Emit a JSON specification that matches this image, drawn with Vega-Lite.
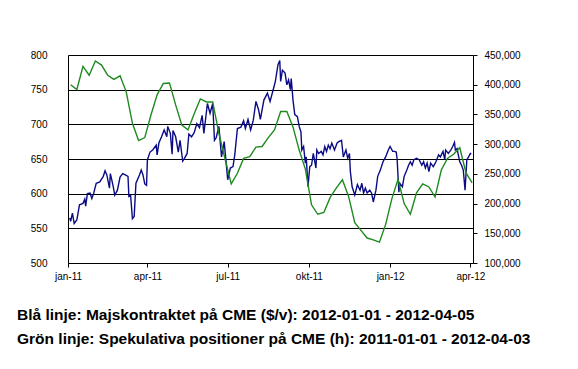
{
  "$schema": "https://vega.github.io/schema/vega-lite/v6.json",
  "width": 405,
  "height": 208,
  "autosize": {"type": "none"},
  "padding": {"left": 68, "top": 55, "right": 105, "bottom": 106},
  "background": "white",
  "config": {"view": {"stroke": null}},
  "title": {
    "text": ["Blå linje: Majskontraktet på CME ($/v): 2012-01-01 - 2012-04-05", "Grön linje: Spekulativa positioner på CME (h): 2011-01-01 - 2012-04-03"],
    "orient": "bottom",
    "anchor": "start",
    "frame": "group",
    "dx": -51,
    "offset": 27,
    "font": "Liberation Sans",
    "fontSize": 15.5,
    "fontWeight": "bold",
    "lineHeight": 24,
    "color": "#000000"
  },
  "datasets": {
    "blue": [
      {"date": "2011-01-03", "price": 565}, {"date": "2011-01-04", "price": 560}, {"date": "2011-01-06", "price": 572}, {"date": "2011-01-08", "price": 557},
      {"date": "2011-01-11", "price": 562}, {"date": "2011-01-14", "price": 584}, {"date": "2011-01-18", "price": 586}, {"date": "2011-01-20", "price": 592},
      {"date": "2011-01-21", "price": 582}, {"date": "2011-01-23", "price": 600}, {"date": "2011-01-26", "price": 601}, {"date": "2011-01-28", "price": 593},
      {"date": "2011-01-30", "price": 600}, {"date": "2011-02-02", "price": 615}, {"date": "2011-02-06", "price": 617}, {"date": "2011-02-10", "price": 625},
      {"date": "2011-02-12", "price": 633}, {"date": "2011-02-14", "price": 627}, {"date": "2011-02-17", "price": 608}, {"date": "2011-02-18", "price": 629},
      {"date": "2011-02-21", "price": 612}, {"date": "2011-02-23", "price": 598}, {"date": "2011-02-26", "price": 605}, {"date": "2011-03-01", "price": 624},
      {"date": "2011-03-04", "price": 629}, {"date": "2011-03-07", "price": 627}, {"date": "2011-03-10", "price": 625}, {"date": "2011-03-11", "price": 596},
      {"date": "2011-03-13", "price": 597}, {"date": "2011-03-15", "price": 564}, {"date": "2011-03-17", "price": 567}, {"date": "2011-03-19", "price": 615},
      {"date": "2011-03-23", "price": 627}, {"date": "2011-03-25", "price": 634}, {"date": "2011-03-27", "price": 627}, {"date": "2011-03-29", "price": 614},
      {"date": "2011-03-31", "price": 612}, {"date": "2011-04-01", "price": 649}, {"date": "2011-04-04", "price": 660}, {"date": "2011-04-07", "price": 663},
      {"date": "2011-04-11", "price": 670}, {"date": "2011-04-12", "price": 656}, {"date": "2011-04-14", "price": 673}, {"date": "2011-04-17", "price": 682},
      {"date": "2011-04-20", "price": 692}, {"date": "2011-04-23", "price": 682}, {"date": "2011-04-24", "price": 697}, {"date": "2011-04-27", "price": 687},
      {"date": "2011-04-29", "price": 657}, {"date": "2011-04-30", "price": 691}, {"date": "2011-05-03", "price": 682}, {"date": "2011-05-06", "price": 660},
      {"date": "2011-05-08", "price": 677}, {"date": "2011-05-11", "price": 647}, {"date": "2011-05-13", "price": 651}, {"date": "2011-05-16", "price": 658},
      {"date": "2011-05-18", "price": 686}, {"date": "2011-05-21", "price": 682}, {"date": "2011-05-24", "price": 688}, {"date": "2011-05-27", "price": 701},
      {"date": "2011-05-30", "price": 695}, {"date": "2011-06-02", "price": 713}, {"date": "2011-06-04", "price": 687}, {"date": "2011-06-08", "price": 730},
      {"date": "2011-06-11", "price": 716}, {"date": "2011-06-14", "price": 730}, {"date": "2011-06-16", "price": 677}, {"date": "2011-06-18", "price": 681},
      {"date": "2011-06-21", "price": 697}, {"date": "2011-06-24", "price": 653}, {"date": "2011-06-27", "price": 675}, {"date": "2011-06-30", "price": 634},
      {"date": "2011-07-01", "price": 620}, {"date": "2011-07-04", "price": 637}, {"date": "2011-07-07", "price": 639}, {"date": "2011-07-09", "price": 656},
      {"date": "2011-07-12", "price": 694}, {"date": "2011-07-16", "price": 696}, {"date": "2011-07-19", "price": 705}, {"date": "2011-07-21", "price": 694},
      {"date": "2011-07-24", "price": 707}, {"date": "2011-07-27", "price": 692}, {"date": "2011-07-30", "price": 706}, {"date": "2011-08-02", "price": 733},
      {"date": "2011-08-05", "price": 721}, {"date": "2011-08-07", "price": 707}, {"date": "2011-08-11", "price": 735}, {"date": "2011-08-15", "price": 745},
      {"date": "2011-08-18", "price": 733}, {"date": "2011-08-22", "price": 752}, {"date": "2011-08-24", "price": 762}, {"date": "2011-08-27", "price": 786},
      {"date": "2011-08-29", "price": 792}, {"date": "2011-08-30", "price": 762}, {"date": "2011-09-01", "price": 778}, {"date": "2011-09-04", "price": 774},
      {"date": "2011-09-06", "price": 757}, {"date": "2011-09-08", "price": 764}, {"date": "2011-09-10", "price": 750}, {"date": "2011-09-11", "price": 766},
      {"date": "2011-09-13", "price": 735}, {"date": "2011-09-15", "price": 714}, {"date": "2011-09-18", "price": 711}, {"date": "2011-09-20", "price": 697},
      {"date": "2011-09-22", "price": 689}, {"date": "2011-09-23", "price": 663}, {"date": "2011-09-25", "price": 668}, {"date": "2011-09-27", "price": 644},
      {"date": "2011-09-28", "price": 653}, {"date": "2011-09-30", "price": 610}, {"date": "2011-10-02", "price": 639}, {"date": "2011-10-04", "price": 641},
      {"date": "2011-10-06", "price": 658}, {"date": "2011-10-09", "price": 637}, {"date": "2011-10-10", "price": 663}, {"date": "2011-10-12", "price": 658},
      {"date": "2011-10-15", "price": 661}, {"date": "2011-10-17", "price": 656}, {"date": "2011-10-19", "price": 668}, {"date": "2011-10-21", "price": 661},
      {"date": "2011-10-23", "price": 670}, {"date": "2011-10-25", "price": 665}, {"date": "2011-10-27", "price": 673}, {"date": "2011-10-30", "price": 663},
      {"date": "2011-11-02", "price": 673}, {"date": "2011-11-04", "price": 675}, {"date": "2011-11-07", "price": 677}, {"date": "2011-11-09", "price": 653},
      {"date": "2011-11-12", "price": 663}, {"date": "2011-11-14", "price": 651}, {"date": "2011-11-16", "price": 658}, {"date": "2011-11-17", "price": 632},
      {"date": "2011-11-19", "price": 610}, {"date": "2011-11-22", "price": 598}, {"date": "2011-11-25", "price": 613}, {"date": "2011-11-28", "price": 605},
      {"date": "2011-11-30", "price": 615}, {"date": "2011-12-02", "price": 601}, {"date": "2011-12-04", "price": 608}, {"date": "2011-12-06", "price": 601},
      {"date": "2011-12-09", "price": 605}, {"date": "2011-12-11", "price": 601}, {"date": "2011-12-13", "price": 588}, {"date": "2011-12-16", "price": 605},
      {"date": "2011-12-18", "price": 625}, {"date": "2011-12-21", "price": 634}, {"date": "2011-12-24", "price": 646}, {"date": "2011-12-27", "price": 653},
      {"date": "2011-12-30", "price": 663}, {"date": "2012-01-01", "price": 668}, {"date": "2012-01-04", "price": 661}, {"date": "2012-01-06", "price": 661},
      {"date": "2012-01-08", "price": 660}, {"date": "2012-01-09", "price": 650}, {"date": "2012-01-11", "price": 602}, {"date": "2012-01-12", "price": 615},
      {"date": "2012-01-15", "price": 610}, {"date": "2012-01-17", "price": 625}, {"date": "2012-01-20", "price": 634}, {"date": "2012-01-22", "price": 641},
      {"date": "2012-01-24", "price": 646}, {"date": "2012-01-26", "price": 641}, {"date": "2012-01-28", "price": 649}, {"date": "2012-01-31", "price": 651},
      {"date": "2012-02-03", "price": 649}, {"date": "2012-02-06", "price": 641}, {"date": "2012-02-08", "price": 646}, {"date": "2012-02-10", "price": 637},
      {"date": "2012-02-12", "price": 644}, {"date": "2012-02-14", "price": 632}, {"date": "2012-02-16", "price": 644}, {"date": "2012-02-19", "price": 639},
      {"date": "2012-02-22", "price": 646}, {"date": "2012-02-25", "price": 656}, {"date": "2012-02-27", "price": 653}, {"date": "2012-03-01", "price": 661},
      {"date": "2012-03-03", "price": 649}, {"date": "2012-03-04", "price": 663}, {"date": "2012-03-07", "price": 658}, {"date": "2012-03-10", "price": 663},
      {"date": "2012-03-12", "price": 668}, {"date": "2012-03-14", "price": 674}, {"date": "2012-03-15", "price": 663}, {"date": "2012-03-17", "price": 665},
      {"date": "2012-03-18", "price": 658}, {"date": "2012-03-20", "price": 646}, {"date": "2012-03-22", "price": 641}, {"date": "2012-03-24", "price": 634},
      {"date": "2012-03-26", "price": 605}, {"date": "2012-03-28", "price": 649}, {"date": "2012-03-30", "price": 653}, {"date": "2012-04-01", "price": 658},
      {"date": "2012-04-02", "price": 657}
    ],
    "green": [
      {"date": "2011-01-04", "pos": 400000}, {"date": "2011-01-11", "pos": 392000}, {"date": "2011-01-18", "pos": 431000}, {"date": "2011-01-25", "pos": 416000},
      {"date": "2011-02-01", "pos": 440000}, {"date": "2011-02-08", "pos": 433000}, {"date": "2011-02-15", "pos": 416000}, {"date": "2011-02-22", "pos": 409000},
      {"date": "2011-03-01", "pos": 415000}, {"date": "2011-03-08", "pos": 388000}, {"date": "2011-03-15", "pos": 335000}, {"date": "2011-03-22", "pos": 306000},
      {"date": "2011-03-29", "pos": 311000}, {"date": "2011-04-05", "pos": 349000}, {"date": "2011-04-12", "pos": 383000}, {"date": "2011-04-19", "pos": 402000},
      {"date": "2011-04-26", "pos": 403000}, {"date": "2011-05-03", "pos": 366000}, {"date": "2011-05-10", "pos": 332000}, {"date": "2011-05-17", "pos": 324000},
      {"date": "2011-05-24", "pos": 351000}, {"date": "2011-05-31", "pos": 376000}, {"date": "2011-06-07", "pos": 371000}, {"date": "2011-06-14", "pos": 371000},
      {"date": "2011-06-21", "pos": 318000}, {"date": "2011-06-28", "pos": 275000}, {"date": "2011-07-05", "pos": 233000}, {"date": "2011-07-12", "pos": 251000},
      {"date": "2011-07-19", "pos": 276000}, {"date": "2011-07-26", "pos": 279000}, {"date": "2011-08-02", "pos": 295000}, {"date": "2011-08-09", "pos": 296000},
      {"date": "2011-08-16", "pos": 311000}, {"date": "2011-08-23", "pos": 324000}, {"date": "2011-08-30", "pos": 355000}, {"date": "2011-09-06", "pos": 355000},
      {"date": "2011-09-13", "pos": 329000}, {"date": "2011-09-20", "pos": 290000}, {"date": "2011-09-27", "pos": 258000}, {"date": "2011-10-04", "pos": 198000},
      {"date": "2011-10-11", "pos": 182000}, {"date": "2011-10-18", "pos": 185000}, {"date": "2011-10-25", "pos": 210000}, {"date": "2011-11-01", "pos": 226000},
      {"date": "2011-11-08", "pos": 240000}, {"date": "2011-11-15", "pos": 212000}, {"date": "2011-11-22", "pos": 168000}, {"date": "2011-11-29", "pos": 155000},
      {"date": "2011-12-06", "pos": 142000}, {"date": "2011-12-13", "pos": 139000}, {"date": "2011-12-20", "pos": 135000}, {"date": "2011-12-27", "pos": 165000},
      {"date": "2012-01-03", "pos": 208000}, {"date": "2012-01-10", "pos": 241000}, {"date": "2012-01-17", "pos": 200000}, {"date": "2012-01-24", "pos": 182000},
      {"date": "2012-01-31", "pos": 218000}, {"date": "2012-02-07", "pos": 233000}, {"date": "2012-02-14", "pos": 228000}, {"date": "2012-02-21", "pos": 211000},
      {"date": "2012-02-28", "pos": 256000}, {"date": "2012-03-06", "pos": 276000}, {"date": "2012-03-13", "pos": 283000}, {"date": "2012-03-20", "pos": 294000},
      {"date": "2012-03-27", "pos": 252000}, {"date": "2012-04-03", "pos": 235000}
    ]
  },
  "layer": [
    {
      "data": {"name": "blue"},
      "mark": {"type": "line", "color": "#0b0b85", "strokeWidth": 1.4, "clip": true},
      "encoding": {
        "x": {
          "field": "date", "type": "temporal",
          "scale": {"type": "utc", "domain": [{"year": 2011, "month": 1, "date": 1, "utc": true}, {"year": 2012, "month": 4, "date": 4, "utc": true}]},
          "axis": {
            "title": null,
            "values": [
              {"year": 2011, "month": 1, "date": 1, "utc": true},
              {"year": 2011, "month": 4, "date": 1, "utc": true},
              {"year": 2011, "month": 7, "date": 1, "utc": true},
              {"year": 2011, "month": 10, "date": 1, "utc": true},
              {"year": 2012, "month": 1, "date": 1, "utc": true},
              {"year": 2012, "month": 4, "date": 1, "utc": true}
            ],
            "labelExpr": "['jan','feb','mar','apr','maj','jun','jul','aug','sep','okt','nov','dec'][utcmonth(datum.value)] + '-' + utcFormat(datum.value, '%y')",
            "grid": false,
            "domainColor": "#000000",
            "domainWidth": 1,
            "tickColor": "#000000",
            "tickSize": 4,
            "labelPadding": 4,
            "labelFont": "Liberation Sans",
            "labelFontSize": 10,
            "labelColor": "#000000",
            "labelFlush": false,
            "labelOverlap": false
          }
        },
        "y": {
          "field": "price", "type": "quantitative",
          "scale": {"domain": [500, 800], "nice": false, "zero": false},
          "axis": {
            "orient": "left",
            "title": null,
            "values": [500, 550, 600, 650, 700, 750, 800],
            "grid": true,
            "gridColor": "#000000",
            "gridWidth": 1,
            "gridOpacity": 1,
            "domainColor": "#000000",
            "domainWidth": 1,
            "ticks": false,
            "tickSize": 0,
            "labelPadding": 21,
            "labelFont": "Liberation Sans",
            "labelFontSize": 10,
            "labelColor": "#000000"
          }
        }
      }
    },
    {
      "data": {"name": "green"},
      "mark": {"type": "line", "color": "#1f8a1f", "strokeWidth": 1.4, "clip": true},
      "encoding": {
        "x": {"field": "date", "type": "temporal"},
        "y": {
          "field": "pos", "type": "quantitative",
          "scale": {"domain": [100000, 450000], "nice": false, "zero": false},
          "axis": {
            "orient": "right",
            "title": null,
            "values": [100000, 150000, 200000, 250000, 300000, 350000, 400000, 450000],
            "format": ",.0f",
            "grid": false,
            "domainColor": "#000000",
            "domainWidth": 1,
            "tickColor": "#000000",
            "tickSize": 4,
            "labelPadding": 7,
            "labelFont": "Liberation Sans",
            "labelFontSize": 10,
            "labelColor": "#000000"
          }
        }
      }
    }
  ],
  "resolve": {"scale": {"y": "independent"}}
}
